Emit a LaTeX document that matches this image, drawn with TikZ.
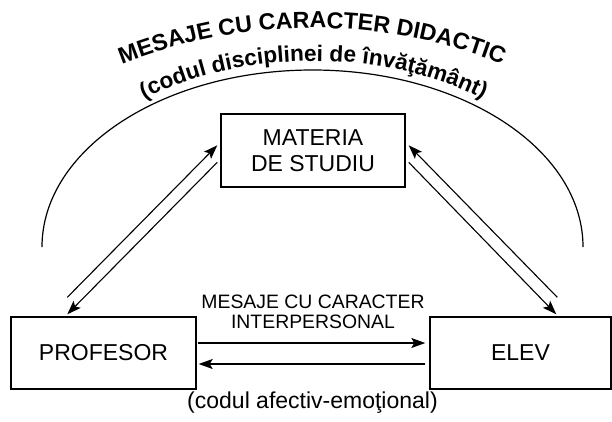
\documentclass[tikz,border=0pt]{standalone}
\usepackage{fontspec}
\setmainfont{Liberation Sans}
\usetikzlibrary{arrows.meta,calc,decorations.text}
\begin{document}
\begin{tikzpicture}[x=1pt,y=1pt,
  box/.style={draw, line width=1.4pt, inner sep=0pt, align=center,
    font=\fontsize{23}{26}\selectfont},
  link/.style={line width=1.1pt, -{Stealth[length=14pt,width=10pt,inset=3pt]}},
  caption/.style={inner sep=0pt, align=center}]
\useasboundingbox (0,0) rectangle (612,-421);

% the three partners of the communication
\node[box, minimum width=184pt, minimum height=73pt] (mat) at (313,-150.5) {MATERIA\\DE STUDIU};
\node[box, minimum width=185pt, minimum height=72pt] (prof) at (103.5,-353) {PROFESOR};
\node[box, minimum width=181pt, minimum height=72pt] (elev) at (520.5,-353) {ELEV};

% end points of the slanted double arrows
\coordinate (a1) at ($(prof.north west)+(57,19)$);
\coordinate (a2) at ($(mat.north west)+(-3,-32)$);
\coordinate (b1) at ($(mat.north west)+(-3,-49)$);
\coordinate (b2) at ($(prof.north west)+(57,2)$);
\coordinate (c1) at ($(mat.north east)+(3,-49)$);
\coordinate (c2) at ($(elev.north west)+(127,2)$);
\coordinate (d1) at ($(elev.north west)+(128,19)$);
\coordinate (d2) at ($(mat.north east)+(3,-32)$);

\draw[link] (a1) -- (a2);
\draw[link] (b1) -- (b2);
\draw[link] (c1) -- (c2);
\draw[link] (d1) -- (d2);

% interpersonal messages between teacher and pupil
\coordinate (e1) at ($(prof.east)+(1,10)$);
\coordinate (e2) at ($(elev.west)+(-4,10)$);
\coordinate (f1) at ($(elev.west)+(-4,-11)$);
\coordinate (f2) at ($(prof.east)+(2,-11)$);
\draw[link] (e1) -- (e2);
\draw[link] (f1) -- (f2);

\node[caption, anchor=north, font=\fontsize{19.4}{19.5}\selectfont] (inter) at (313,-295)
  {MESAJE CU CARACTER\\INTERPERSONAL};
\node[caption, anchor=base, font=\fontsize{23}{26}\selectfont] (afect) at (312.5,-408)
  {(codul afectiv-emoţional)};

% the didactic arc over the triangle
\draw[line width=1.2pt] (42,-247) arc[start angle=180, end angle=0, x radius=270.5, y radius=177];

\path[decorate, decoration={text along path, text align=center,
    text={|\bfseries\fontsize{23.2}{23}\selectfont|MESAJE CU CARACTER DIDACTIC}}]
  ([shift={(120:517)}]312,-545) arc[start angle=120, end angle=60, radius=517];

\path[decorate, decoration={text along path, text align=center,
    text={|\bfseries\fontsize{22.6}{23}\selectfont|(codul disciplinei de învăţământ)}}]
  (34,-247) arc[start angle=180, end angle=0, x radius=279.5, y radius=186];
\end{tikzpicture}
\end{document}
